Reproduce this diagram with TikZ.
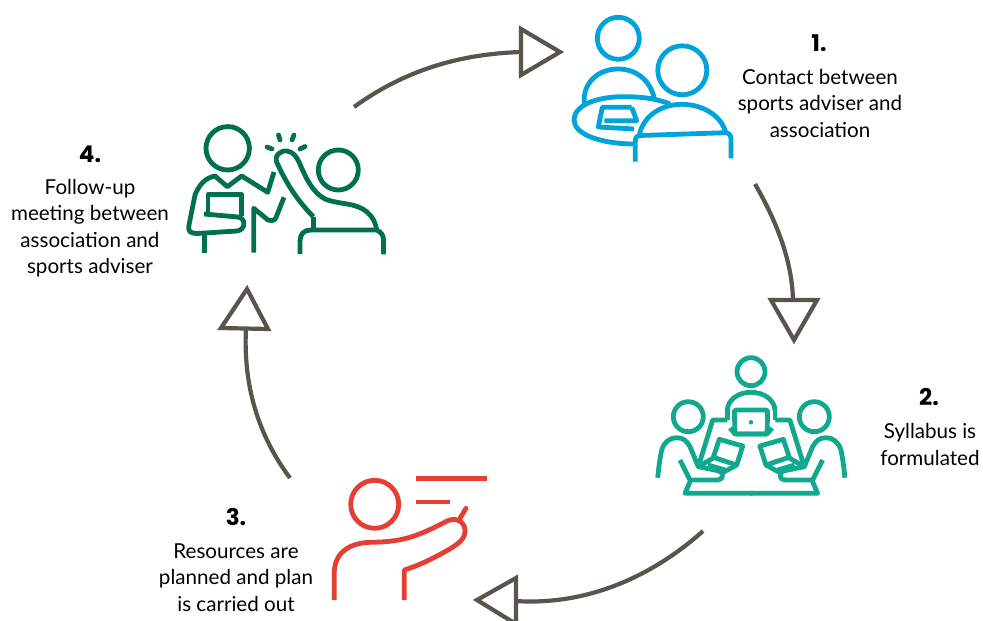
\documentclass[tikz,border=0pt]{standalone}
\usepackage{fontspec}
\setmainfont{Lato}
\newfontfamily\numfont{Poppins}
\definecolor{cblue}{HTML}{00A3DA}
\definecolor{cteal}{HTML}{12A88F}
\definecolor{cred}{HTML}{E53E32}
\definecolor{cgreen}{HTML}{00704F}
\definecolor{cgrey}{HTML}{58554E}
\tikzset{
  flow/.style={draw=cgrey,line width=4.2pt},
  tiphead/.style={draw=cgrey,line width=4.2pt,line join=miter,fill=white},
  icon/.style={line width=4.8pt,line join=round},
  lbl/.style={align=center,text=black,inner sep=0pt,font=\fontsize{20.6}{26.5}\selectfont},
  num/.style={text=black,inner sep=0pt,font=\numfont\bfseries\fontsize{23}{24}\selectfont}
}
\newcommand{\tealhalf}{
  \draw[icon,cteal] (688.3,416.7) circle (15);
  \draw[icon,cteal] (657.7,477.7) .. controls (659,465) and (660,458) .. (661.7,450) .. controls (664,442) and (670,437.7) .. (676.7,437.7) .. controls (683,437.7) and (687,441) .. (690,446.7) -- (698.3,466.7) -- (718,470.7) .. controls (724,471) and (724,480) .. (718,480) -- (690,480) -- (680,460);
  \draw[icon,cteal] (698.3,466.7) -- (712.7,420) -- (727.3,420);
  \draw[icon,cteal] (719.3,439.3) -- (742.7,446) -- (736.7,465) -- (713.3,457.3) -- cycle;
  \draw[icon,cteal] (698.3,466.7) -- (713.3,458);
  \draw[icon,cteal] (708,465) -- (725,470);
  \draw[icon,cteal] (736.7,465) -- (722,473);
  \draw[icon,cteal] (690,481.7) -- (685,493.3) -- (752.5,493.3);
}
\begin{document}
\begin{tikzpicture}[x=1pt,y=-1pt]
\useasboundingbox (0,0) rectangle (983,621);
\fill[white] (0,0) rectangle (983,621);
% named connector ends
\coordinate (s1) at (354,107);
\coordinate (e1) at (521,52);
\coordinate (s2) at (755,184);
\coordinate (e2) at (793,300);
\coordinate (s3) at (703,531);
\coordinate (e3) at (515,601);
\coordinate (s4) at (290,478);
\coordinate (e4) at (246,328);
% connectors
\draw[flow] (s1) .. controls (405,70) and (460,54) .. (e1);
\draw[tiphead] (521,29) -- (560,52) -- (521,75) -- cycle;
\draw[flow] (s2) .. controls (778,224) and (792,262) .. (e2);
\draw[tiphead] (771,300) -- (817,300) -- (794,340) -- cycle;
\draw[flow] (s3) .. controls (655,574) and (590,606) .. (e3);
\draw[tiphead] (516,578) -- (516,624) -- (477,600) -- cycle;
\draw[flow] (s4) .. controls (258,435) and (243,385) .. (e4);
\draw[tiphead] (221,328) -- (268,329) -- (247,289) -- cycle;
% blue icon
\begin{scope}[icon,cblue]
\draw (618.3,38.3) circle (21);
\draw (682.3,70.3) circle (24.5);
\draw (584.3,105) -- (584.3,96.7) .. controls (586,80) and (600,69) .. (618.3,69) .. controls (636,69) and (650,80) .. (654.3,98.3);
\draw (670,104) .. controls (655,98) and (640,96.7) .. (623.3,96.7) .. controls (595,96.7) and (574,106) .. (574,120) .. controls (574,134) and (600,144) .. (635,144);
\draw (631.7,107.3) -- (602.3,107.3) -- (598.3,127) -- (634,129);
\draw (631.7,107.3) -- (636.7,120.7) -- (604.3,120.7);
\draw (639.3,135) .. controls (643,117) and (660,104.3) .. (681.7,104.3) .. controls (703,104.3) and (722,116) .. (725.7,133);
\draw (635.3,161.7) -- (635.3,142) .. controls (635.3,137) and (637,135.5) .. (640,135.5) -- (725.7,132.7) .. controls (729,133) and (731,135) .. (731,139) -- (731,158.3);
\end{scope}
% teal icon
\begin{scope}[icon,cteal]
\draw (751,371.7) circle (14);
\draw (727.3,411) .. controls (727.3,400) and (738,392.3) .. (751,392.3) .. controls (764,392.3) and (775,400) .. (775,411);
\draw (727.3,411) -- (727.3,420);
\draw (775,411) -- (775,420);
\draw[rounded corners=1.5pt] (735,434) -- (734.3,410) -- (767.7,410) -- (767,434) -- cycle;
\draw (730,428) -- (735,434) -- (767,434) -- (772,428);
\fill (751,422.3) circle (2.2);
\end{scope}
\tealhalf
\begin{scope}[shift={(1502.6,0)},xscale=-1]
\tealhalf
\end{scope}
% red icon
\begin{scope}[icon,cred]
\draw (415.7,478.3) -- (486.7,478.3);
\draw (415.7,502) -- (450,502);
\draw (374.7,504.3) circle (24);
\draw (334.3,600) -- (334.3,571.7) .. controls (335,552) and (350,543) .. (370,542.3) .. controls (400,542) and (415,538) .. (447,521) .. controls (458,516) and (466,524) .. (465,532) .. controls (464,540) and (458,544) .. (448,550) .. controls (434,558) and (420,565) .. (404.3,570) -- (404.3,600);
\draw[line cap=round] (460,518.3) -- (466,508.3);
\end{scope}
% dark green icon
\begin{scope}[icon,cgreen]
\draw (227.7,148.3) circle (21.7);
\draw (338.3,170) circle (20);
\begin{scope}[line cap=round]
\draw (267,147) -- (272,149);
\draw (278.5,135) -- (280,140);
\draw (294,135) -- (292,140);
\draw (300,149) -- (305,146.5);
\end{scope}
\draw (274,172) -- (267.7,192.3) -- (241.7,176) -- (227.3,186.7) -- (215,176) .. controls (205,178) and (199,185) .. (195,195) -- (189,225) .. controls (188,232) and (190,233) .. (197,233.5) -- (237,231) .. controls (246,230) and (246,218) .. (238,217) -- (204,214);
\draw (208,214) -- (208,194.5) -- (241.7,194.5) -- (241.7,216);
\draw (204.3,233) -- (204.3,252.7);
\draw (253.7,252.7) -- (253.7,208.3) -- (268,220) .. controls (274,222) and (276,219) .. (277,215) -- (284,197.3);
\draw (313.3,216.7) .. controls (295,198) and (285,180) .. (278,165) .. controls (272,155) and (282,150) .. (287,151) .. controls (293,152) and (296,156) .. (299,162) .. controls (306,178) and (312,192) .. (325,199) .. controls (340,205) and (355,202) .. (367,212) .. controls (374,218) and (376,225) .. (376.7,230);
\draw (313.3,216.7) -- (313.3,230);
\draw (300,254) -- (300,241) .. controls (300,234) and (304,230) .. (311,230) -- (376.7,230) .. controls (381,232) and (383.5,235) .. (383.5,240) -- (383.5,254.3);
\end{scope}
% labels
\node[num] (n1) at (819,43) {1.};
\node[lbl] (t1) at (820,103) {Contact between\\sports adviser and\\association};
\node[num] (n2) at (929,397) {2.};
\node[lbl] (t2) at (930,444.5) {Syllabus is\\formulated};
\node[num] (n3) at (236,517) {3.};
\node[lbl] (t3) at (236,577.5) {Resources are\\planned and plan\\is carried out};
\node[num] (n4) at (90,154) {4.};
\node[lbl] (t4) at (90,228) {Follow-up\\meeting between\\association and\\sports adviser};
\end{tikzpicture}
\end{document}
